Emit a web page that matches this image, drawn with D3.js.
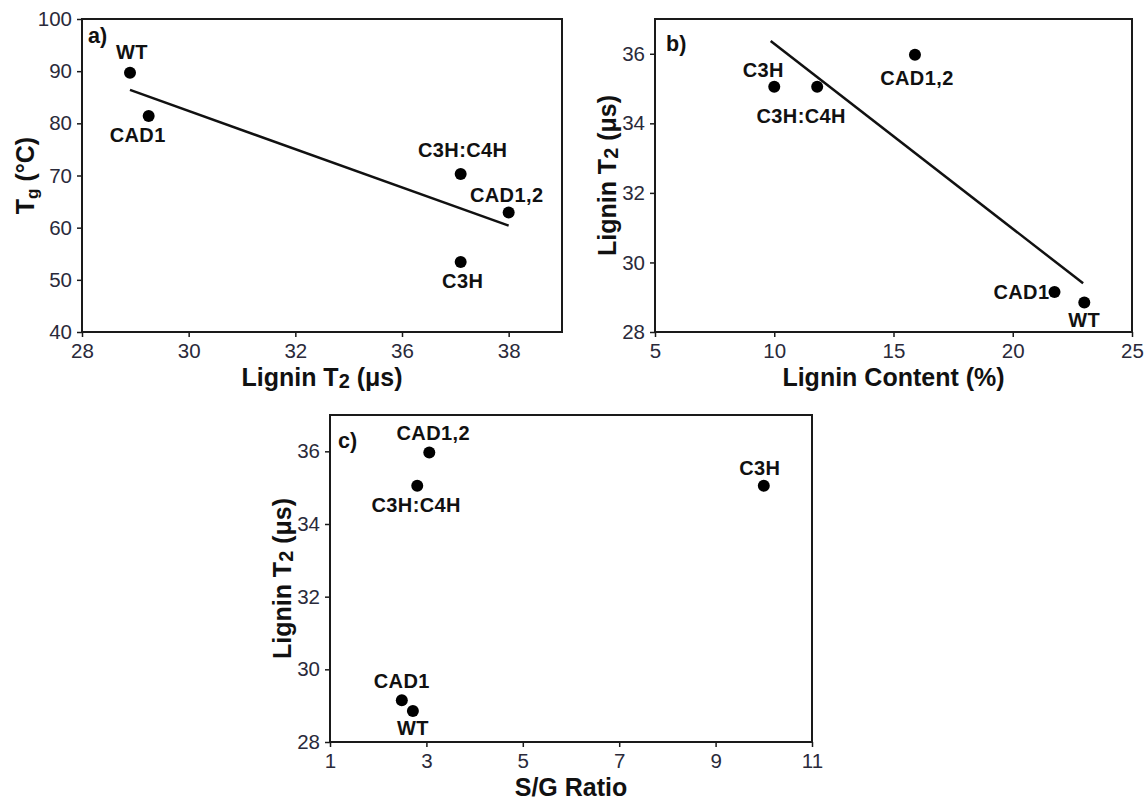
<!DOCTYPE html>
<html>
<head>
<meta charset="utf-8">
<script src="https://cdn.jsdelivr.net/npm/d3@7"></script>
<style>
  body { margin: 0; background: #fff; }
  text { font-family: "Liberation Sans", Arial, sans-serif; }
</style>
</head>
<body>
<svg id="fig" width="1144" height="803"></svg>
<script>
// genotypes, same order in every panel
var genotypes = ["WT", "CAD1", "C3H:C4H", "CAD1,2", "C3H"];

// panel a: Tg vs lignin T2
var panelAT2 = [28.9, 29.25, 35.1, 36.0, 35.1];
var tgValues = [89.7, 81.4, 70.3, 62.9, 53.4];
var fitAX = [28.9, 36.0];
var fitAY = [86.4, 60.4];
var tickPosA = [28, 30, 32, 34, 36];
var tickLabelsA = ["28", "30", "32", "36", "38"];   // labels as printed
var tickYA = [40, 50, 60, 70, 80, 90, 100];

// panel b: lignin T2 vs lignin content
var ligninContent = [23.0, 21.75, 11.8, 15.9, 10.0];
var ligninT2 = [28.85, 29.15, 35.05, 35.97, 35.05];
var fitBX = [9.85, 22.95];
var fitBY = [36.37, 29.4];
var tickXB = [5, 10, 15, 20, 25];

// panel c: lignin T2 vs S/G ratio
var sgRatio = [2.72, 2.49, 2.81, 3.06, 10.0];
var tickXC = [1, 3, 5, 7, 9, 11];
var tickT2 = [28, 30, 32, 34, 36];

var svg = d3.select("#fig");
var ink = "#1a1a1a";

function addTitle(g, parts, x, y, rotate) {
  var t = g.append("text")
    .attr("text-anchor", "middle")
    .attr("font-size", 25)
    .attr("font-weight", "bold")
    .attr("fill", "#111");
  if (rotate) t.attr("transform", "translate(" + x + "," + y + ") rotate(-90)");
  else t.attr("x", x).attr("y", y);
  var shift = 0;
  parts.forEach(function (p) {
    var s = t.append("tspan").text(p.t);
    if (p.sub) {
      s.attr("font-size", p.size || 16).attr("dy", p.shift);
      shift = p.shift;
    } else if (shift) {
      s.attr("dy", -shift);
      shift = 0;
    }
  });
}

function drawPanel(cfg) {
  var g = svg.append("g");
  var x = d3.scaleLinear().domain(cfg.xDomain).range([cfg.left, cfg.right]);
  var y = d3.scaleLinear().domain(cfg.yDomain).range([cfg.bottom, cfg.top]);

  var xAxis = d3.axisBottom(x).tickValues(cfg.xTicks).tickSize(5).tickPadding(6)
    .tickFormat(function (d, i) { return cfg.xLabels ? cfg.xLabels[i] : d; });
  var yAxis = d3.axisLeft(y).tickValues(cfg.yTicks).tickSize(5).tickPadding(5);

  var gx = g.append("g").attr("transform", "translate(0," + cfg.bottom + ")").call(xAxis);
  var gy = g.append("g").attr("transform", "translate(" + cfg.left + ",0)").call(yAxis);
  [gx, gy].forEach(function (a) {
    a.attr("font-size", 20.5);
    a.select(".domain").remove();
    a.selectAll(".tick line").attr("stroke", ink).attr("stroke-width", 1.5);
    a.selectAll(".tick text").attr("font-size", 20.5).attr("fill", "#2a2a3a")
      .style("font-family", "'Liberation Sans', Arial, sans-serif");
  });

  g.append("rect")
    .attr("x", cfg.left).attr("y", cfg.top)
    .attr("width", cfg.right - cfg.left).attr("height", cfg.bottom - cfg.top)
    .attr("fill", "none").attr("stroke", ink).attr("stroke-width", 2);

  if (cfg.fitX) {
    g.append("line")
      .attr("x1", x(cfg.fitX[0])).attr("y1", y(cfg.fitY[0]))
      .attr("x2", x(cfg.fitX[1])).attr("y2", y(cfg.fitY[1]))
      .attr("stroke", "#111").attr("stroke-width", 2.5);
  }

  var pts = cfg.xs.map(function (v, i) { return { x: v, y: cfg.ys[i], name: genotypes[i] }; });

  g.selectAll("circle.pt").data(pts).enter().append("circle")
    .attr("class", "pt")
    .attr("cx", function (d) { return x(d.x); })
    .attr("cy", function (d) { return y(d.y); })
    .attr("r", 6).attr("fill", "#000");

  g.selectAll("text.lbl").data(pts).enter().append("text")
    .attr("class", "lbl")
    .attr("x", function (d) { return x(d.x) + cfg.offsets[d.name][0]; })
    .attr("y", function (d) { return y(d.y) + cfg.offsets[d.name][1]; })
    .attr("text-anchor", function (d) { return cfg.offsets[d.name][2] || "middle"; })
    .attr("font-size", 20).attr("font-weight", "bold").attr("fill", "#111")
    .attr("letter-spacing", 0.4)
    .text(function (d) { return d.name; });

  g.append("text")
    .attr("x", cfg.letter[0]).attr("y", cfg.letter[1])
    .attr("font-size", 21.5).attr("font-weight", "bold").attr("fill", "#111")
    .text(cfg.letterText);

  addTitle(g, cfg.xTitle, (cfg.left + cfg.right) / 2, cfg.xTitleY, false);
  addTitle(g, cfg.yTitle, cfg.yTitleX, (cfg.top + cfg.bottom) / 2, true);
}

var t2Title = [{ t: "Lignin T" }, { t: "2", sub: true, shift: 2, size: 20 }, { t: " (μs)" }];

drawPanel({
  left: 82, right: 562, top: 19, bottom: 332,
  xDomain: [28, 37], yDomain: [40, 100],
  xTicks: tickPosA, xLabels: tickLabelsA, yTicks: tickYA,
  xs: panelAT2, ys: tgValues, fitX: fitAX, fitY: fitAY,
  offsets: {
    "WT": [2, -14], "CAD1": [-11, 26], "C3H:C4H": [2, -17],
    "CAD1,2": [-2, -11], "C3H": [2, 26]
  },
  letter: [88, 43], letterText: "a)",
  xTitle: t2Title, xTitleY: 386,
  yTitle: [{ t: "T" }, { t: "g", sub: true, shift: 4, size: 17 }, { t: " (°C)" }], yTitleX: 34
});

drawPanel({
  left: 655, right: 1132, top: 19, bottom: 332,
  xDomain: [5, 25], yDomain: [28, 37],
  xTicks: tickXB, yTicks: tickT2,
  xs: ligninContent, ys: ligninT2, fitX: fitBX, fitY: fitBY,
  offsets: {
    "WT": [0, 25], "CAD1": [-5, 7, "end"], "C3H:C4H": [-16, 36],
    "CAD1,2": [2, 30], "C3H": [-11, -10]
  },
  letter: [666, 51], letterText: "b)",
  xTitle: [{ t: "Lignin Content (%)" }], xTitleY: 386,
  yTitle: t2Title, yTitleX: 616
});

drawPanel({
  left: 330, right: 812, top: 415, bottom: 742,
  xDomain: [1, 11], yDomain: [28, 37],
  xTicks: tickXC, yTicks: tickT2,
  xs: sgRatio, ys: ligninT2,
  offsets: {
    "WT": [0, 24], "CAD1": [0, -12], "C3H:C4H": [-1, 26],
    "CAD1,2": [4, -12], "C3H": [-4, -11]
  },
  letter: [338, 448], letterText: "c)",
  xTitle: [{ t: "S/G Ratio" }], xTitleY: 796,
  yTitle: t2Title, yTitleX: 291
});
</script>
</body>
</html>
